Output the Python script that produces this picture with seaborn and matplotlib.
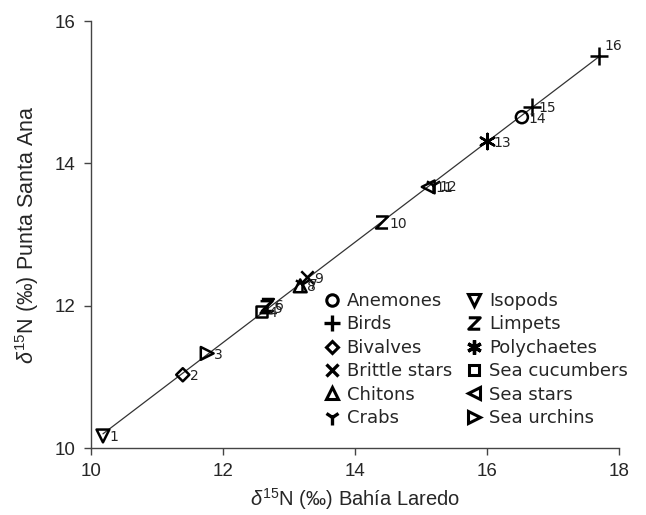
import numpy as np
import pandas as pd
import matplotlib
matplotlib.use("Agg")
import matplotlib.pyplot as plt
from matplotlib.path import Path
from matplotlib.lines import Line2D
import seaborn as sns

# delta 15N values per taxon at the two sites
labels = [1, 2, 3, 4, 5, 6, 7, 8, 9, 10, 11, 12, 13, 14, 15, 16]
groups = ["Isopods", "Bivalves", "Sea urchins", "Sea cucumbers", "Limpets",
          "Limpets", "Crabs", "Chitons", "Brittle stars", "Limpets",
          "Sea stars", "Crabs", "Polychaetes", "Anemones", "Birds", "Birds"]
bahia_laredo = [10.18, 11.39, 11.76, 12.58, 12.66, 12.68, 13.20, 13.17, 13.28,
                14.41, 15.11, 15.18, 16.00, 16.53, 16.68, 17.70]
punta_santa_ana = [10.17, 11.03, 11.33, 11.92, 11.98, 12.01, 12.31, 12.28, 12.40,
                   13.17, 13.67, 13.69, 14.31, 14.65, 14.80, 15.51]

legend_order = ["Anemones", "Birds", "Bivalves", "Brittle stars", "Chitons", "Crabs",
                "Isopods", "Limpets", "Polychaetes", "Sea cucumbers", "Sea stars",
                "Sea urchins"]

df = pd.DataFrame({"label": labels, "group": groups,
                   "x": bahia_laredo, "y": punta_santa_ana})

# open "Z" glyph for limpets
z_marker = Path([(-0.9, 0.9), (0.9, 0.9), (-0.9, -0.9), (0.9, -0.9)],
                [Path.MOVETO, Path.LINETO, Path.LINETO, Path.LINETO])

# marker, size, whether it is an outline (filled-type) marker
styles = {
    "Anemones": ("o", 75, True),
    "Birds": ("+", 150, False),
    "Bivalves": ("D", 45, True),
    "Brittle stars": ("x", 80, False),
    "Chitons": ("^", 85, True),
    "Crabs": ("1", 140, False),
    "Isopods": ("v", 85, True),
    "Limpets": (z_marker, 75, True),
    "Polychaetes": ((6, 2, 0), 120, False),
    "Sea cucumbers": ("s", 65, True),
    "Sea stars": ("<", 85, True),
    "Sea urchins": (">", 85, True),
}

sns.set_style("white")
plt.rcParams["font.family"] = ["Liberation Sans", "DejaVu Sans"]
plt.rcParams["mathtext.fontset"] = "custom"
plt.rcParams["mathtext.rm"] = "Liberation Sans"
plt.rcParams["mathtext.it"] = "Liberation Sans:italic"

fig = plt.figure(figsize=(6.46, 5.15), dpi=100)
ax = fig.add_axes([0.141, 0.130, 0.817, 0.829])

sns.regplot(data=df, x="x", y="y", scatter=False, ci=None, truncate=True,
            line_kws=dict(color="#333333", lw=0.9), ax=ax)

for g in legend_order:
    sub = df[df["group"] == g]
    m, s, outline = styles[g]
    if outline:
        sns.scatterplot(data=sub, x="x", y="y", marker=m, s=s, facecolors="none",
                        edgecolor="black", linewidth=1.8, ax=ax, zorder=3)
    else:
        sns.scatterplot(data=sub, x="x", y="y", marker=m, s=s, color="black",
                        linewidth=1.8, ax=ax, zorder=3)

for _, r in df.iterrows():
    off = (4, 7) if r["label"] == 16 else (5, -1)
    ax.annotate(str(r["label"]), (r["x"], r["y"]), xytext=off,
                textcoords="offset points", fontsize=10, color="#222222",
                family="DejaVu Sans", va="center", ha="left", zorder=4)

ax.set_xlim(10, 18)
ax.set_ylim(10, 16)
ax.set_xticks([10, 12, 14, 16, 18])
ax.set_yticks([10, 12, 14, 16])
ax.set_xlabel(r"$\delta^{15}$N (‰) Bahía Laredo", fontsize=14.5, labelpad=4)
ax.set_ylabel(r"$\delta^{15}$N (‰) Punta Santa Ana", fontsize=15.5, labelpad=10)
ax.tick_params(axis="both", direction="out", length=5, width=1, color="#444444",
               labelsize=13.5, pad=6, left=True, bottom=True)
for side in ["top", "right"]:
    ax.spines[side].set_visible(False)
for side in ["left", "bottom"]:
    ax.spines[side].set_color("#444444")
    ax.spines[side].set_linewidth(1.0)

handles = []
for g in legend_order:
    m, s, outline = styles[g]
    if outline:
        h = Line2D([], [], ls="none", marker=m, markersize=np.sqrt(s) * 0.95,
                   markerfacecolor="none", markeredgecolor="black",
                   markeredgewidth=2.2)
    else:
        h = Line2D([], [], ls="none", marker=m, markersize=np.sqrt(s) * 0.95,
                   color="black", markeredgewidth=2.4)
    handles.append(h)
leg = ax.legend(handles, legend_order, ncol=2, loc="upper left",
                bbox_to_anchor=(324 / 646, 1 - 292 / 515),
                bbox_transform=fig.transFigure, frameon=False,
                prop={"family": "DejaVu Sans", "size": 13},
                handlelength=0.9, handletextpad=0.35, columnspacing=0.8,
                labelspacing=0.3, borderpad=0, borderaxespad=0)

fig.savefig("out.png", dpi=100)
